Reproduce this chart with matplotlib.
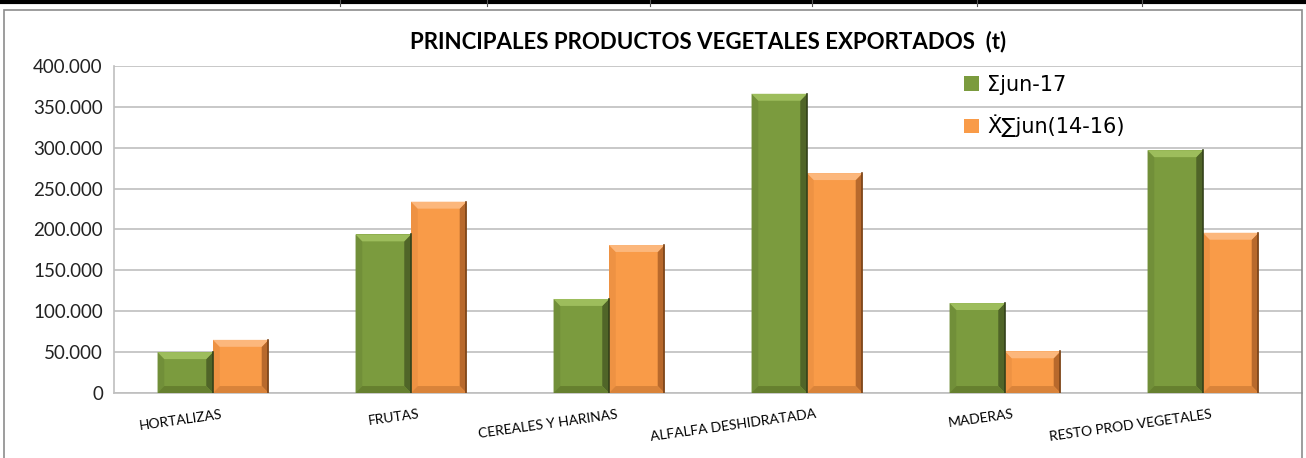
import numpy as np
import matplotlib
matplotlib.use('Agg')
import matplotlib.pyplot as plt
from matplotlib.patches import Polygon, Rectangle
from matplotlib.ticker import FuncFormatter

# datos (t)
categorias = ['HORTALIZAS', 'FRUTAS', 'CEREALES Y HARINAS', 'ALFALFA DESHIDRATADA',
              'MADERAS', 'RESTO PROD VEGETALES']
jun17 = [50000, 194000, 115000, 366000, 110000, 297000]
media_14_16 = [65000, 234000, 181000, 269000, 51000, 196000]
series = ['Σjun-17', 'Ẋ∑jun(14-16)']

plt.rcParams['font.family'] = ['Lato', 'DejaVu Sans']

W, H = 1306, 458
fig = plt.figure(figsize=(W / 100, H / 100), dpi=100)
ax = fig.add_axes([114 / W, (H - 393) / H, (1302 - 114) / W, (393 - 66) / H])

# marco del grafico y linea superior
fig.patches.append(Rectangle((4 / W, -0.1), (1302 - 4) / W, (H - 10) / H + 0.1,
                             transform=fig.transFigure, fill=False,
                             edgecolor='#8c8c8c', lw=1.2))
fig.add_artist(plt.Line2D([0, 1], [1 - 1.5 / H, 1 - 1.5 / H], transform=fig.transFigure,
                          color='black', lw=3))
for xt in [340, 487, 650, 812, 977, 1142]:
    fig.add_artist(plt.Line2D([xt / W, xt / W], [1 - 6 / H, 1], transform=fig.transFigure,
                              color='#555555', lw=0.8))

x = np.arange(len(categorias))
w = 0.28
# (frente, arriba, abajo, izquierda, derecha, borde)
colores = [('#7B9B3E', '#9DBD5C', '#66802F', '#718F39', '#506528', '#34421A'),
           ('#F99B48', '#FCB77C', '#D9833A', '#EE9243', '#B8692C', '#7A4318')]

ax.set_xlim(-0.5, len(categorias) - 0.5)
ax.set_ylim(0, 400000)

for i, (vals, (c, ct, cb, cl, cr, ce)) in enumerate(zip([jun17, media_14_16], colores)):
    bars = ax.bar(x + (i - 0.5) * w, vals, w, color=c, label=series[i],
                  zorder=3, linewidth=0)
    for b in bars:
        x0, x1 = b.get_x(), b.get_x() + b.get_width()
        y1 = b.get_height()
        dx = 0.034
        dy = 8500
        caras = [
            ([(x0, 0), (x0, y1), (x0 + dx, y1 - dy), (x0 + dx, dy)], cl),
            ([(x1, 0), (x1, y1), (x1 - dx, y1 - dy), (x1 - dx, dy)], cr),
            ([(x0, y1), (x1, y1), (x1 - dx, y1 - dy), (x0 + dx, y1 - dy)], ct),
            ([(x0, 0), (x1, 0), (x1 - dx, dy), (x0 + dx, dy)], cb),
        ]
        for pts, col in caras:
            ax.add_patch(Polygon(pts, closed=True, facecolor=col, edgecolor='none', zorder=4))
        ax.plot([x1, x1], [0, y1], color=ce, lw=1.2, zorder=5)

ax.set_yticks(np.arange(0, 400001, 50000))
ax.yaxis.set_major_formatter(FuncFormatter(lambda v, p: f'{int(v):,}'.replace(',', '.')))
ax.tick_params(axis='y', length=0, labelsize=13.5, pad=8, colors='#222222')
ax.grid(axis='y', color='#bfbfbf', lw=1.2, zorder=0)

ax.set_xticks(x + 0.04)
ax.set_xticklabels(categorias, rotation=8, ha='right', va='top', rotation_mode='anchor',
                   fontsize=10)
ax.tick_params(axis='x', length=0, pad=11)

for s in ['top', 'right']:
    ax.spines[s].set_visible(False)
ax.spines['left'].set_color('#bfbfbf')
ax.spines['bottom'].set_color('#bfbfbf')
ax.spines['left'].set_linewidth(1.2)
ax.spines['bottom'].set_linewidth(1.2)

fig.text(708 / W, 1 - 42 / H, 'PRINCIPALES PRODUCTOS VEGETALES EXPORTADOS  (t)',
         ha='center', va='center', fontsize=16, fontweight='bold')

leg = ax.legend(loc='upper left', bbox_to_anchor=(0.70, 1.03), frameon=False,
                handlelength=0.7, handleheight=0.7, labelspacing=0.95,
                handletextpad=0.4, prop={'family': ['DejaVu Sans'], 'size': 15})

fig.savefig('out.png', dpi=100)
